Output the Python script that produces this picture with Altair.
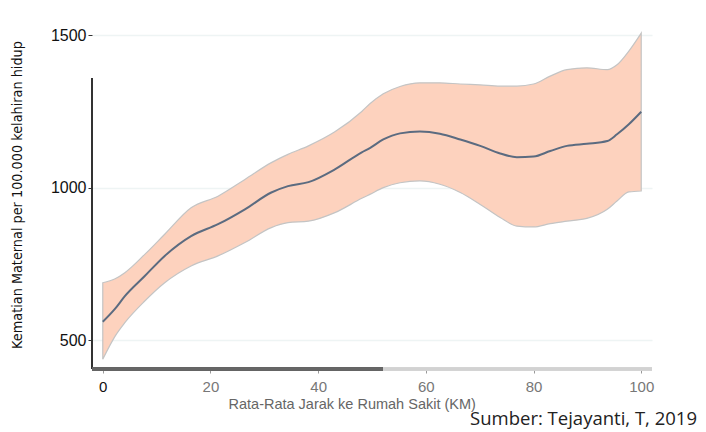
import altair as alt
import pandas as pd

# Distance (km), fitted line and confidence band
DIST = [0, 2.3, 4.1, 7.8, 11.5, 16.4, 21.4, 26.4, 31.3, 34.4, 38.2, 43.1, 48.1, 49.6, 52.1, 55.2,
        58.9, 62.6, 66.4, 70.1, 73.8, 76.9, 80.0, 83.1, 86.2, 89.9, 93.7, 95.5, 97.7, 100]
FIT = [560, 603, 644, 710, 776, 841, 880, 929, 984, 1005, 1018, 1060, 1116, 1130, 1158, 1178,
       1184, 1177, 1158, 1137, 1112, 1100, 1102, 1120, 1137, 1144, 1153, 1175, 1208, 1249]
UPPER = [688, 701, 721, 781, 847, 934, 972, 1027, 1082, 1109, 1137, 1183, 1250, 1275, 1308, 1332,
         1344, 1344, 1340, 1337, 1333, 1333, 1340, 1366, 1387, 1393, 1387, 1403, 1448, 1507]
LOWER = [437, 513, 557, 628, 688, 743, 776, 820, 869, 885, 890, 918, 965, 978, 1000, 1016,
         1022, 1011, 984, 945, 902, 874, 871, 882, 890, 899, 929, 956, 986, 989]

X_TICKS = [0, 20, 40, 60, 80, 100]
Y_TICKS = [500, 1000, 1500]
X_TITLE = "Rata-Rata Jarak ke Rumah Sakit (KM)"
Y_TITLE = "Kematian Maternal per 100.000 kelahiran hidup"
SOURCE = ["Sumber: Tejayanti, T, 2019"]

df = pd.DataFrame({"x": DIST, "fit": FIT, "lo": LOWER, "hi": UPPER})

xscale = alt.Scale(domain=[-2, 102], nice=False, zero=False)
yscale = alt.Scale(domain=[405, 1550], nice=False, zero=False)

xaxis = alt.Axis(
    values=X_TICKS, title=X_TITLE, grid=False, domain=False, format="d",
    ticks=True, tickSize=4, tickColor="#999",
    labelFont="Liberation Sans", labelFontSize=15,
    labelColor=alt.ExprRef("datum.value == 0 ? '#111' : '#777'"),
    labelPadding=6,
    titleFont="Liberation Sans", titleFontSize=14.5, titleFontWeight="normal",
    titleColor="#666", titleAnchor="start", titleX=136, titleY=35, titleBaseline="middle",
)
yaxis = alt.Axis(
    values=Y_TICKS, title=Y_TITLE, grid=True, gridColor="#eef4f4", gridWidth=1.5,
    domain=False, ticks=True, tickSize=4, tickColor="#333", format="d",
    labelFont="Liberation Sans", labelFontSize=16, labelColor="#111", labelPadding=2,
    titleFont="DejaVu Sans Condensed, Liberation Sans", titleFontSize=14.3, titleFontWeight="normal",
    titleColor="#111", titleX=-75, titleBaseline="middle",
)

band = alt.Chart(df).mark_area(
    color="#fdd2be", opacity=1, stroke="#c4c4c4", strokeWidth=1.2, interpolate="monotone"
).encode(
    x=alt.X("x:Q", scale=xscale, axis=xaxis),
    y=alt.Y("lo:Q", scale=yscale, axis=yaxis),
    y2="hi:Q",
)

line = alt.Chart(df).mark_line(color="#5b6b80", strokeWidth=2, interpolate="monotone").encode(
    x=alt.X("x:Q", scale=xscale),
    y=alt.Y("fit:Q", scale=yscale),
)

yaxis_line = alt.Chart(df).mark_rule(color="#333", strokeWidth=1.5).encode(
    x=alt.value(0), y=alt.value(58), y2=alt.value(349)
)
xaxis_dark = alt.Chart(df).mark_rule(color="#666", strokeWidth=2.5).encode(
    x=alt.value(0), x2=alt.value(291), y=alt.value(349)
)
xaxis_light = alt.Chart(df).mark_rule(color="#d2d2d2", strokeWidth=2.5).encode(
    x=alt.value(291), x2=alt.value(560), y=alt.value(349)
)

source = alt.Chart(pd.DataFrame({"t": SOURCE})).mark_text(
    font="Open Sans", fontSize=18.5, color="#222", align="right", baseline="middle"
).encode(text="t:N", x=alt.value(605), y=alt.value(399))

chart = alt.layer(band, line, yaxis_line, xaxis_dark, xaxis_light, source).properties(
    width=560, height=349,
    autosize=alt.AutoSizeParams(type="none"),
    padding={"left": 84, "top": 12, "right": 45, "bottom": 60},
).configure_view(stroke=None)

chart.save("out.html", embed_options={"renderer": "svg", "actions": False})
